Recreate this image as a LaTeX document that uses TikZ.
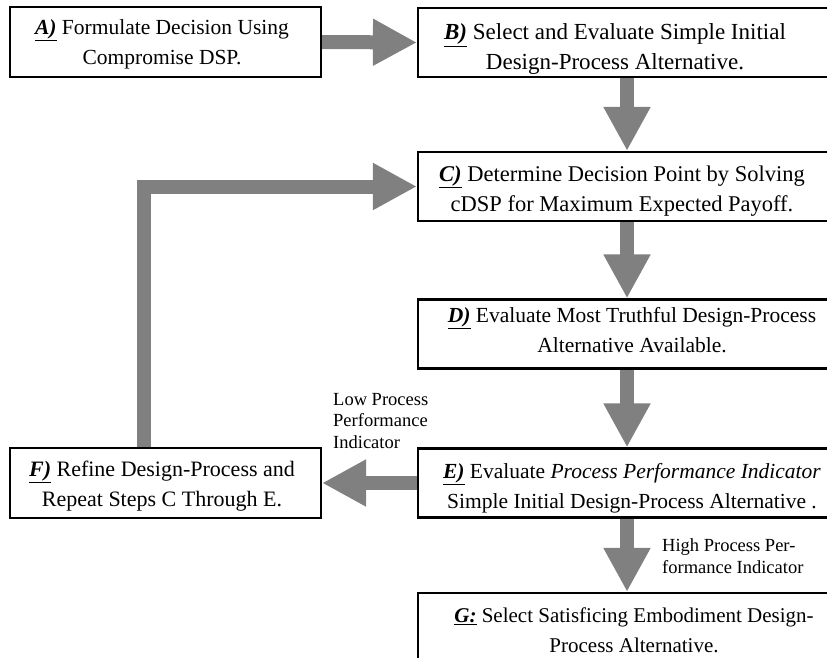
\documentclass[tikz,border=0pt]{standalone}
\usepackage{fontspec}
\setmainfont{Liberation Serif}
\usetikzlibrary{arrows.meta}
\definecolor{flowgray}{HTML}{808080}

\tikzset{
  stepbox/.style={draw=black, fill=white, line width=2.2pt, rectangle, inner sep=0pt},
  leftbox/.style={stepbox, minimum width=311pt, minimum height=70pt},
  rightbox/.style={stepbox, minimum width=418pt, minimum height=69pt},
  boxtext/.style={inner sep=0pt, align=center, font=\fontsize{#1}{30}\selectfont},
  boxtext/.default=22,
  flow/.style={draw=flowgray, line width=14pt, line join=miter,
    -{Triangle[length=44pt,width=44pt]}},
  lbl/.style={font=\fontsize{18.5}{21.5}\selectfont, inner sep=0pt, align=left}
}
\newcommand{\steplabel}[1]{\underline{\textbf{\textit{#1}}}}

\begin{document}
\begin{tikzpicture}[x=1pt, y=-1pt]
  \useasboundingbox (0,0) rectangle (827,658);
  \clip (0,0) rectangle (827,658);

  % step boxes
  \node[leftbox]  (A) at (165.5,42)  {};
  \node[rightbox] (B) at (627,42.5)  {};
  \node[rightbox] (C) at (627,186.5) {};
  \node[rightbox] (D) at (627,334)   {};
  \node[rightbox] (E) at (627,483)   {};
  \node[leftbox]  (F) at (165.5,483) {};
  \node[rightbox, minimum height=86pt] (G) at (627,636) {};

  % step texts
  \node[boxtext=21.5] (At) at (162,44.5) {\steplabel{A)} Formulate Decision Using\\Compromise DSP.};
  \node[boxtext=23]   (Bt) at (615,49)   {\steplabel{B)} Select and Evaluate Simple Initial\\Design-Process Alternative.};
  \node[boxtext=22.5] (Ct) at (622,191)  {\steplabel{C)} Determine Decision Point by Solving\\cDSP for Maximum Expected Payoff.};
  \node[boxtext=21.5] (Dt) at (632,330)  {\steplabel{D)} Evaluate Most Truthful Design-Process\\Alternative Available.};
  \node[boxtext=21.5] (Et) at (632,488)  {\steplabel{E)} Evaluate \textit{Process Performance Indicator}\\Simple Initial Design-Process Alternative .};
  \node[boxtext=22]   (Ft) at (162,486)  {\steplabel{F)} Refine Design-Process and\\Repeat Steps C Through E.};
  \node[boxtext=21]   (Gt) at (634,630)  {\steplabel{G:} Select Satisficing Embodiment Design-\\Process Alternative.};

  % branch labels
  \node[lbl, anchor=west] (low)  at (333,421) {Low Process\\Performance\\Indicator};
  \node[lbl, anchor=west] (high) at (662,556) {High Process Per-\\formance Indicator};

  % flow arrows
  \coordinate (loopx) at (144,0);
  \draw[flow] (A.east) -- (B.west);
  \draw[flow] (B.south) -- (C.north);
  \draw[flow] (C.south) -- (D.north);
  \draw[flow] (D.south) -- (E.north);
  \draw[flow] (E.south) -- (G.north);
  \draw[flow] (E.west) -- (F.east);
  \draw[flow] (F.north -| loopx) |- (C.west);
\end{tikzpicture}
\end{document}
